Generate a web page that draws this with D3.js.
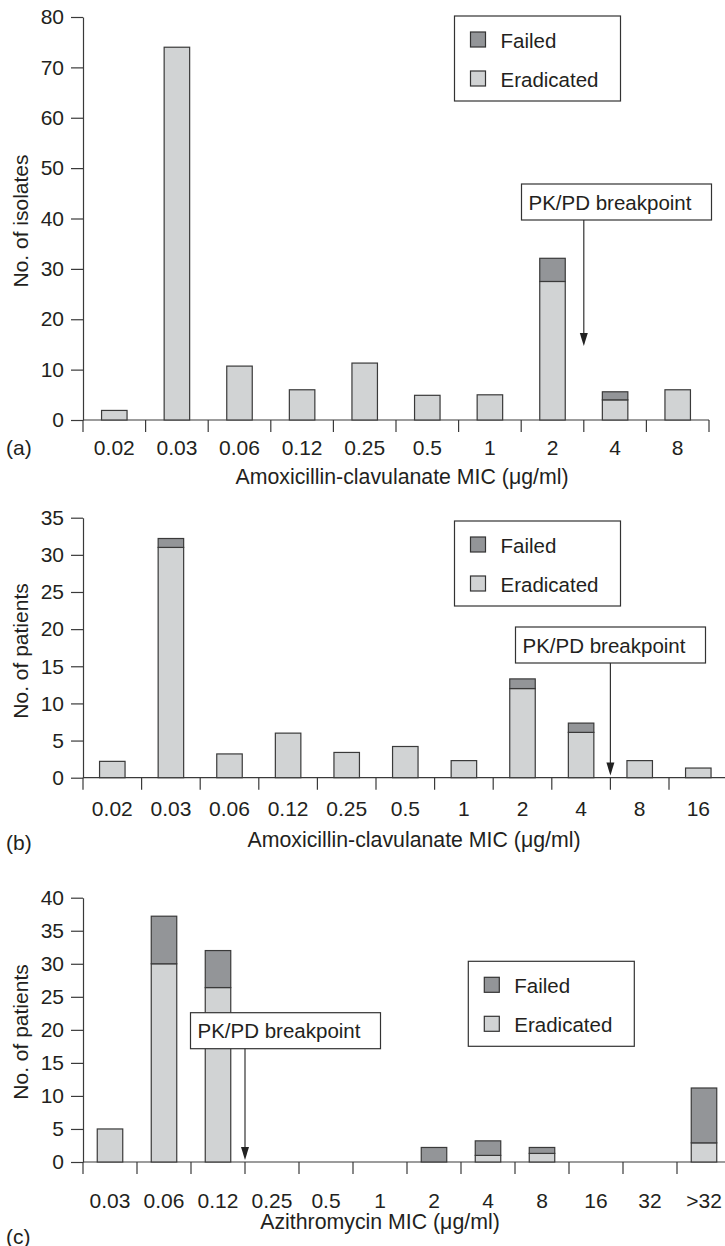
<!doctype html>
<html lang="en">

<head>
    <meta charset="utf-8">
    <title>MIC distributions</title>
    <style>
        body {
            margin: 0;
            background: #fff;
        }

        svg {
            font-family: "Liberation Sans", Arial, Helvetica, sans-serif;
            fill: #231f20;
        }

        .domain,
        .tick line {
            stroke: #3a3a3a;
            stroke-width: 1.2;
        }

        .bar {
            stroke: #3a3a3a;
            stroke-width: 1.2;
        }
    </style>
</head>

<body>
    <div id="chart"></div>
    <script src="https://cdn.jsdelivr.net/npm/d3@7"></script>

    <script>
        // panel (a): amoxicillin-clavulanate, isolates
        var micA = ["0.02", "0.03", "0.06", "0.12", "0.25", "0.5", "1", "2", "4", "8"];
        var eradA = [1.9, 74, 10.7, 6, 11.3, 4.9, 5, 27.5, 4, 6];
        var failA = [0, 0, 0, 0, 0, 0, 0, 4.6, 1.6, 0];
        var ticksA = [0, 10, 20, 30, 40, 50, 60, 70, 80];

        // panel (b): amoxicillin-clavulanate, patients
        var micB = ["0.02", "0.03", "0.06", "0.12", "0.25", "0.5", "1", "2", "4", "8", "16"];
        var eradB = [2.2, 31, 3.2, 6, 3.4, 4.2, 2.3, 12, 6.1, 2.3, 1.3];
        var failB = [0, 1.2, 0, 0, 0, 0, 0, 1.3, 1.25, 0, 0];
        var ticksB = [0, 5, 10, 15, 20, 25, 30, 35];

        // panel (c): azithromycin, patients
        var micC = ["0.03", "0.06", "0.12", "0.25", "0.5", "1", "2", "4", "8", "16", "32", ">32"];
        var eradC = [5, 30, 26.4, 0, 0, 0, 0, 1, 1.3, 0, 0, 2.9];
        var failC = [0, 7.2, 5.6, 0, 0, 0, 2.2, 2.2, 0.9, 0, 0, 8.3];
        var ticksC = [0, 5, 10, 15, 20, 25, 30, 35, 40];

        var legendKeys = ["Failed", "Eradicated"];
        var fillFailed = "#939598";
        var fillErad = "#d1d3d4";

        var width = 725, height = 1246;

        var svg = d3.select("#chart")
            .append("svg")
            .attr("width", width)
            .attr("height", height);

        function drawPanel(p) {
            var g = svg.append("g");

            var x = d3.scaleBand().domain(p.cats).range(p.xRange).padding(0);
            var y = d3.scaleLinear().domain([0, d3.max(p.ticks)]).range(p.yRange);
            var bw = 25.5;

            // y axis
            g.append("g")
                .attr("transform", "translate(" + p.xRange[0] + ",0)")
                .call(d3.axisLeft(y).tickValues(p.ticks).tickSize(12).tickSizeOuter(0).tickPadding(7))
                .call(function (a) {
                    a.selectAll("text").style("font-size", "21px").attr("fill", "#231f20");
                });

            // x axis: labels at band centres, ticks at band edges
            var xa = g.append("g").attr("transform", "translate(0," + p.yRange[0] + ")");
            xa.call(d3.axisBottom(x).tickSize(0).tickPadding(p.labelPad))
                .call(function (a) {
                    a.select(".domain").remove();
                    a.selectAll("text").style("font-size", "21px").attr("fill", "#231f20");
                });
            xa.append("line")
                .attr("class", "domain")
                .attr("x1", p.xRange[0]).attr("x2", p.xRange[1]);
            var edges = p.cats.map(function (c) { return x(c); }).concat([p.xRange[1]]);
            xa.selectAll(".edge").data(edges).enter()
                .append("line")
                .attr("class", "domain")
                .attr("x1", function (d) { return d; })
                .attr("x2", function (d) { return d; })
                .attr("y1", 0).attr("y2", 12);

            // stacked bars
            var rows = p.cats.map(function (c, i) {
                return { cat: c, erad: p.erad[i], fail: p.fail[i] };
            });
            var bars = g.selectAll(".col").data(rows).enter().append("g");
            bars.filter(function (d) { return d.erad > 0; })
                .append("rect")
                .attr("class", "bar")
                .attr("x", function (d) { return x(d.cat) + x.bandwidth() / 2 - bw / 2; })
                .attr("width", bw)
                .attr("y", function (d) { return y(d.erad); })
                .attr("height", function (d) { return y(0) - y(d.erad); })
                .attr("fill", fillErad);
            bars.filter(function (d) { return d.fail > 0; })
                .append("rect")
                .attr("class", "bar")
                .attr("x", function (d) { return x(d.cat) + x.bandwidth() / 2 - bw / 2; })
                .attr("width", bw)
                .attr("y", function (d) { return y(d.erad + d.fail); })
                .attr("height", function (d) { return y(d.erad) - y(d.erad + d.fail); })
                .attr("fill", fillFailed);

            // y title
            g.append("text")
                .attr("transform", "translate(20," + p.yTitleY + ") rotate(-90)")
                .attr("text-anchor", "middle")
                .attr("dominant-baseline", "central")
                .style("font-size", "21px")
                .text(p.yTitle);

            // x title
            g.append("text")
                .attr("x", p.xTitle[0]).attr("y", p.xTitle[1])
                .attr("text-anchor", "middle")
                .attr("dominant-baseline", "central")
                .style("font-size", "21.3px")
                .text(p.xLabel);

            // panel letter
            g.append("text")
                .attr("x", 6).attr("y", p.letterY)
                .attr("dominant-baseline", "central")
                .style("font-size", "21px")
                .text(p.letter);

            // legend
            var lg = g.append("g").attr("transform", "translate(" + p.legend[0] + "," + p.legend[1] + ")");
            lg.append("rect")
                .attr("width", 166).attr("height", 85)
                .attr("fill", "#fff").attr("stroke", "#333").attr("stroke-width", 1.2);
            var items = lg.selectAll(".item").data(legendKeys).enter()
                .append("g")
                .attr("transform", function (d, i) { return "translate(16," + (16 + i * 39) + ")"; });
            items.append("rect")
                .attr("width", 15).attr("height", 15)
                .attr("fill", function (d) { return d === "Failed" ? fillFailed : fillErad; })
                .attr("stroke", "#333").attr("stroke-width", 1.2);
            items.append("text")
                .attr("x", 30).attr("y", 15.5)
                .style("font-size", "20.5px")
                .text(function (d) { return d; });

            // PK/PD breakpoint annotation
            var ax = x(p.bpCat);
            var bg = g.append("g");
            bg.append("rect")
                .attr("x", p.bpBox[0]).attr("y", p.bpBox[1])
                .attr("width", 190).attr("height", 36)
                .attr("fill", "#fff").attr("stroke", "#333").attr("stroke-width", 1.2);
            bg.append("text")
                .attr("x", p.bpBox[0] + 7).attr("y", p.bpBox[1] + 25.5)
                .style("font-size", "20.5px")
                .text("PK/PD breakpoint");
            var tip = y(p.bpTip);
            bg.append("line")
                .attr("x1", ax).attr("x2", ax)
                .attr("y1", p.bpBox[1] + 36).attr("y2", tip - 4)
                .attr("stroke", "#333").attr("stroke-width", 1.2);
            bg.append("path")
                .attr("d", "M" + (ax - 4) + "," + (tip - 13) + "L" + (ax + 4) + "," + (tip - 13) + "L" + ax + "," + tip + "Z")
                .attr("fill", "#222");
        }

        drawPanel({
            cats: micA, erad: eradA, fail: failA, ticks: ticksA,
            xRange: [83, 709], yRange: [420, 17], labelPad: 20,
            yTitle: "No. of isolates", yTitleY: 221,
            xLabel: "Amoxicillin-clavulanate MIC (\u03bcg/ml)", xTitle: [402, 477],
            letter: "(a)", letterY: 447,
            legend: [454.5, 16],
            bpCat: "4", bpBox: [521.5, 184], bpTip: 14.7
        });

        drawPanel({
            cats: micB, erad: eradB, fail: failB, ticks: ticksB,
            xRange: [83, 727.6], yRange: [777.7, 517.7], labelPad: 23,
            yTitle: "No. of patients", yTitleY: 651,
            xLabel: "Amoxicillin-clavulanate MIC (\u03bcg/ml)", xTitle: [414, 840],
            letter: "(b)", letterY: 842,
            legend: [454.5, 521],
            bpCat: "8", bpBox: [515.5, 627], bpTip: 0.3
        });

        drawPanel({
            cats: micC, erad: eradC, fail: failC, ticks: ticksC,
            xRange: [83, 731], yRange: [1162, 897.7], labelPad: 31,
            yTitle: "No. of patients", yTitleY: 1032,
            xLabel: "Azithromycin MIC (\u03bcg/ml)", xTitle: [380, 1222],
            letter: "(c)", letterY: 1236,
            legend: [468.3, 961.3],
            bpCat: "0.25", bpBox: [190.5, 1012.7], bpTip: 0.3
        });
    </script>
</body>
</html>
